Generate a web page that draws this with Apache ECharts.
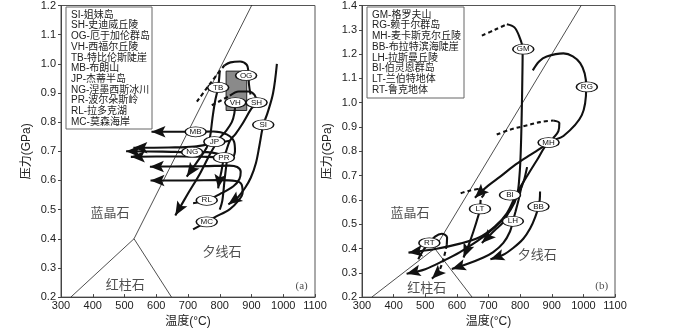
<!DOCTYPE html>
<html><head><meta charset="utf-8">
<script src="https://cdn.jsdelivr.net/npm/echarts@6/dist/echarts.min.js"></script>
<style>html,body{margin:0;padding:0;background:#fff}#c{width:700px;height:333px}</style>
</head><body><div id="c"></div>
<script>
// ---------- axes ----------
const tempRange = [300, 1100];
const tempStep = 100;
const presRangeA = [0.2, 1.2];
const presRangeB = [0.2, 1.4];
const presStep = 0.1;

// ---------- aluminosilicate phase boundaries (°C, GPa) ----------
const triplePoint = [530, 0.40];
const kySilEnd = [993, 1.40];
const kyAndEnd = [331, 0.20];
const andSilEnd = [648, 0.20];

// ---------- legends ----------
const legendA = ['SI-姐妹岛','SH-史迪威丘陵','OG-厄于加伦群岛','VH-西福尔丘陵','TB-特比伦斯陡崖','MB-布朗山','JP-杰蒂半岛','NG-涅墨西斯冰川','PR-波尔朵斯岭','RL-拉多克湖','MC-莫森海岸'];
const legendB = ['GM-格罗夫山','RG-赖于尔群岛','MH-麦卡斯克尔丘陵','BB-布拉特滨海陡崖','LH-拉斯曼丘陵','BI-伯灵恩群岛','LT-兰伯特地体','RT-鲁克地体'];

// ---------- site labels ----------
const siteA = ['OG','TB','VH','SH','SI','MB','JP','NG','PR','RL','MC'];
const siteAT = [883,795,849,916,937,724,783,713,813,759,759];
const siteAP = [0.960,0.919,0.867,0.867,0.791,0.767,0.733,0.697,0.678,0.532,0.458];
const siteB = ['GM','RG','MH','BI','LT','BB','LH','RT'];
const siteBT = [810,1011,890,768,673,858,777,513];
const siteBP = [1.220,1.065,0.836,0.620,0.563,0.573,0.512,0.423];

// ---------- field labels ----------
const fieldNames = ['蓝晶石','夕线石','红柱石'];
const fieldAT = [454,807,502];
const fieldAP = [0.487,0.353,0.240];
const fieldBT = [452,854,505];
const fieldBP = [0.544,0.372,0.236];
const panelTags = ['(a)','(b)'];
const panelTagT = [1058,1058];
const panelTagP = [0.237,0.244];

// ---------- grey box (panel a) ----------
const greyBoxT = [820, 885];
const greyBoxP = [0.840, 0.975];

// ---------- panel (a) P–T paths [T °C, P GPa] ----------
const pathSI = [[980,1.0],[968,0.90],[950,0.83],[937,0.79],[925,0.72],[914,0.66],[898,0.61],[880,0.575],[855,0.54],[827,0.518]];
const pathOGpro = [[728,0.87],[775,0.94],[815,0.995]];
const pathOG = [[815,0.995],[834,1.005],[864,1.008],[885,0.997],[890,0.975],[892,0.93],[897,0.895]];
const pathSHpro = [[775,0.858],[805,0.875],[832,0.891]];
const pathSH = [[832,0.891],[860,0.905],[890,0.905],[910,0.893],[916,0.867],[900,0.847],[869,0.79],[850,0.76],[832,0.736],[820,0.70],[813,0.678],[805,0.63],[798,0.595],[795,0.573]];
const pathVH = [[849,0.867],[846,0.83],[838,0.80],[820,0.77],[801,0.747],[785,0.72],[769,0.69],[738,0.624],[700,0.555],[660,0.48]];
const pathTB = [[800,0.975],[795,0.92],[785,0.87],[777,0.813],[769,0.747],[759,0.713],[732,0.669],[696,0.613]];
const pathMB = [[838,0.67],[848,0.70],[845,0.733],[822,0.758],[780,0.768],[727,0.767],[650,0.767],[585,0.767]];
const pathJP = [[832,0.736],[800,0.73],[783,0.728],[720,0.716],[640,0.713],[528,0.712]];
const pathNG = [[800,0.69],[760,0.697],[713,0.697],[620,0.699],[505,0.700]];
const pathPR = [[813,0.678],[760,0.681],[680,0.682],[600,0.682],[520,0.681]];
const pathPRb = [[822,0.665],[815,0.60],[808,0.53],[800,0.50]];
const pathRL = [[716,0.522],[759,0.532],[800,0.553],[843,0.58],[862,0.605],[866,0.63],[855,0.646],[830,0.651],[750,0.649],[650,0.648],[580,0.647]];
const pathMC = [[716,0.432],[759,0.458],[785,0.474],[832,0.502],[858,0.53],[872,0.558],[869,0.586],[850,0.598],[800,0.601],[700,0.600],[582,0.600]];

// ---------- panel (b) P–T paths ----------
const pathGMpro = [[679,1.276],[720,1.30],[758,1.323]];
const pathGM = [[758,1.323],[782,1.31],[798,1.27],[808,1.22],[807,1.10],[805,0.95],[802,0.80],[798,0.70],[790,0.616],[770,0.56],[737,0.509],[700,0.465],[663,0.429],[610,0.385],[557,0.349],[500,0.315],[441,0.296]];
const pathRG = [[840,1.133],[860,1.17],[884,1.19],[937,1.203],[990,1.163],[1009,1.065],[995,0.949],[937,0.863],[890,0.836],[853,0.763],[821,0.696],[790,0.629],[758,0.545],[720,0.49],[670,0.445],[610,0.42],[536,0.399],[447,0.383]];
const pathMHpro = [[726,0.869],[770,0.89],[810,0.903],[863,0.92],[905,0.927]];
const pathMH = [[905,0.927],[924,0.916],[921,0.883],[905,0.855],[890,0.836],[850,0.80],[821,0.776],[780,0.74],[737,0.696],[700,0.66],[673,0.629],[657,0.609]];
const pathLTpro = [[612,0.627],[640,0.638],[668,0.645]];
const pathLTcurl = [[668,0.645],[682,0.641],[686,0.625],[678,0.610]];
const pathLT = [[675,0.60],[673,0.563],[668,0.536],[652,0.469],[636,0.41],[621,0.363]];
const pathBI = [[822,0.735],[812,0.68],[800,0.64],[779,0.589],[760,0.54],[747,0.509],[720,0.475],[705,0.456],[679,0.423]];
const pathBB = [[863,0.635],[862,0.60],[858,0.573],[848,0.53],[832,0.483],[810,0.44],[779,0.403],[745,0.373],[706,0.356]];
const pathLH = [[805,0.66],[795,0.60],[785,0.55],[777,0.512],[768,0.47],[747,0.423],[715,0.385],[684,0.363],[630,0.335],[584,0.316]];
const pathRT = [[478,0.356],[495,0.395],[513,0.423],[531,0.449],[552,0.461],[569,0.445],[568,0.415]];
const pathRTret = [[568,0.415],[563,0.385],[552,0.333],[540,0.30],[521,0.276]];

const solidA = [pathSI,pathOG,pathSH,pathVH,pathTB,pathMB,pathJP,pathNG,pathPR,pathPRb,pathRL,pathMC];
const dashedA = [pathOGpro,pathSHpro];
const arrowA = [pathSI,pathSH,pathVH,pathTB,pathMB,pathJP,pathNG,pathPR,pathRL,pathMC];
const solidB = [pathGM,pathRG,pathMH,pathLTcurl,pathLT,pathBI,pathBB,pathLH,pathRT];
const dashedB = [pathGMpro,pathMHpro,pathLTpro,pathRTret];
const arrowB = [pathGM,pathRG,pathMH,pathLT,pathBI,pathBB,pathLH,pathRTret];

const INK = '#111';
const LATIN = 'Liberation Sans, Arial, sans-serif';
const MIXED = '"Liberation Sans", "Noto Sans CJK SC", sans-serif';

function lineSeries(data, gi, dashed, extra) {
  return Object.assign({
    type:'line', xAxisIndex:gi, yAxisIndex:gi, data, smooth:0.35,
    symbol:'none', showSymbol:false, silent:true, z:3, animation:false,
    lineStyle:{color:INK, width:2.1, type: dashed ? [4,3] : 'solid', cap:'butt'}
  }, extra || {});
}
function boundarySeries(gi, extra) {
  return [
    Object.assign({type:'line', xAxisIndex:gi, yAxisIndex:gi, data:[kyAndEnd, triplePoint, kySilEnd],
      symbol:'none', silent:true, z:2, animation:false, lineStyle:{color:'#222', width:0.8}}, extra||{}),
    {type:'line', xAxisIndex:gi, yAxisIndex:gi, data:[triplePoint, andSilEnd],
      symbol:'none', silent:true, z:2, animation:false, lineStyle:{color:'#222', width:0.8}}
  ];
}
function arrowSeries(paths, gi) {
  const data = paths.map(p => { const a=p[p.length-2], b=p[p.length-1]; return [a[0],a[1],b[0],b[1]]; });
  return {
    type:'custom', xAxisIndex:gi, yAxisIndex:gi, z:5, silent:true, animation:false, data,
    encode:{x:[0,2], y:[1,3]},
    renderItem(params, api) {
      const p0 = api.coord([api.value(0), api.value(1)]);
      const p1 = api.coord([api.value(2), api.value(3)]);
      const ang = Math.atan2(p1[1]-p0[1], p1[0]-p0[0]);
      const L = 14, W = 5.8, N = 3;
      const cx = Math.cos(ang), cy = Math.sin(ang);
      const bx = p1[0]-L*cx, by = p1[1]-L*cy;
      const nx = -cy*W, ny = cx*W;
      const notch = [p1[0]-(L-N)*cx, p1[1]-(L-N)*cy];
      return {type:'polygon', shape:{points:[p1,[bx+nx,by+ny],notch,[bx-nx,by-ny]]}, style:{fill:INK}};
    }
  };
}
function siteSeries(names, ts, ps, gi) {
  return {
    type:'scatter', xAxisIndex:gi, yAxisIndex:gi, z:6, silent:true, animation:false,
    symbol:'circle', symbolSize:[21,10],
    data: names.map((n,i)=>({name:n, value:[ts[i], ps[i]]})),
    itemStyle:{color:'#fff', borderColor:INK, borderWidth:1.1, opacity:1},
    label:{show:true, position:'inside', formatter:'{b}', fontSize:8, color:INK, fontFamily:LATIN}
  };
}
function textSeries(names, ts, ps, gi, style) {
  return {
    type:'scatter', xAxisIndex:gi, yAxisIndex:gi, z:4, silent:true, animation:false,
    symbolSize:0,
    data: names.map((n,i)=>({name:n, value:[ts[i], ps[i]]})),
    label:Object.assign({show:true, position:'inside', formatter:'{b}', color:'#222'}, style)
  };
}
function xAxisDef(gi) {
  return {
    gridIndex:gi, type:'value', min:tempRange[0], max:tempRange[1], interval:tempStep,
    axisLine:{lineStyle:{color:'#444', width:1}},
    axisTick:{inside:true, length:3, lineStyle:{color:'#444'}},
    axisLabel:{color:'#222', fontSize:11, margin:3, fontFamily:LATIN, hideOverlap:false, formatter:v=>String(v)},
    splitLine:{show:false},
    name:'温度(°C)', nameLocation:'middle', nameGap:15,
    nameTextStyle:{fontSize:12, color:'#222', fontFamily:MIXED}
  };
}
function yAxisDef(gi, range) {
  return {
    gridIndex:gi, type:'value', min:range[0], max:range[1], interval:presStep,
    axisLine:{lineStyle:{color:'#444', width:1}},
    axisTick:{inside:false, length:3, lineStyle:{color:'#444'}},
    axisLabel:{color:'#222', fontSize:11, margin:5, fontFamily:LATIN, formatter:v=>v.toFixed(1), hideOverlap:false},
    splitLine:{show:false},
    name:'压力(GPa)', nameLocation:'middle', nameGap:28,
    nameTextStyle:{fontSize:12, color:'#222', fontFamily:MIXED}
  };
}
function legendGraphic(lines, x, y, w, h) {
  const children = [{type:'rect', shape:{x:0, y:0, width:w, height:h}, style:{fill:'#fff', stroke:'#666', lineWidth:1}}];
  lines.forEach((t,i)=>children.push({type:'text', x:5, y:8+10.7*i,
    style:{text:t, font:'10px "Liberation Sans", "Noto Sans CJK SC", sans-serif', fill:'#222', textVerticalAlign:'middle'}}));
  return {type:'group', x, y, z:10, children};
}

const series = [];
// panel a
series.push(...boundarySeries(0, {markArea:{silent:true, itemStyle:{color:'#8a8a8a', borderColor:'#222', borderWidth:1},
  data:[[{coord:[greyBoxT[0], greyBoxP[1]]},{coord:[greyBoxT[1], greyBoxP[0]]}]]}}));
solidA.forEach(p=>series.push(lineSeries(p,0,false)));
dashedA.forEach(p=>series.push(lineSeries(p,0,true)));
series.push(arrowSeries(arrowA,0));
series.push(siteSeries(siteA, siteAT, siteAP, 0));
series.push(textSeries(fieldNames, fieldAT, fieldAP, 0, {fontSize:13, fontFamily:MIXED}));
series.push(textSeries([panelTags[0]], [panelTagT[0]], [panelTagP[0]], 0, {fontSize:11, fontFamily:'Liberation Serif, serif'}));
// panel b
series.push(...boundarySeries(1));
solidB.forEach(p=>series.push(lineSeries(p,1,false)));
dashedB.forEach(p=>series.push(lineSeries(p,1,true)));
series.push(arrowSeries(arrowB,1));
series.push(siteSeries(siteB, siteBT, siteBP, 1));
series.push(textSeries(fieldNames, fieldBT, fieldBP, 1, {fontSize:13, fontFamily:MIXED}));
series.push(textSeries([panelTags[1]], [panelTagT[1]], [panelTagP[1]], 1, {fontSize:11, fontFamily:'Liberation Serif, serif'}));

const chart = echarts.init(document.getElementById('c'), null, {renderer:'canvas', width:700, height:333});
chart.setOption({
  animation:false,
  backgroundColor:'#fff',
  grid:[
    {left:61, top:5, width:254, height:299, show:true, borderColor:'#555', borderWidth:1, backgroundColor:'transparent'},
    {left:362, top:4, width:253, height:300, show:true, borderColor:'#555', borderWidth:1, backgroundColor:'transparent'}
  ],
  xAxis:[xAxisDef(0), xAxisDef(1)],
  yAxis:[yAxisDef(0, presRangeA), yAxisDef(1, presRangeB)],
  graphic:[legendGraphic(legendA, 66, 7, 86, 122), legendGraphic(legendB, 367, 7, 97, 91)],
  series
});
</script>
</body></html>
